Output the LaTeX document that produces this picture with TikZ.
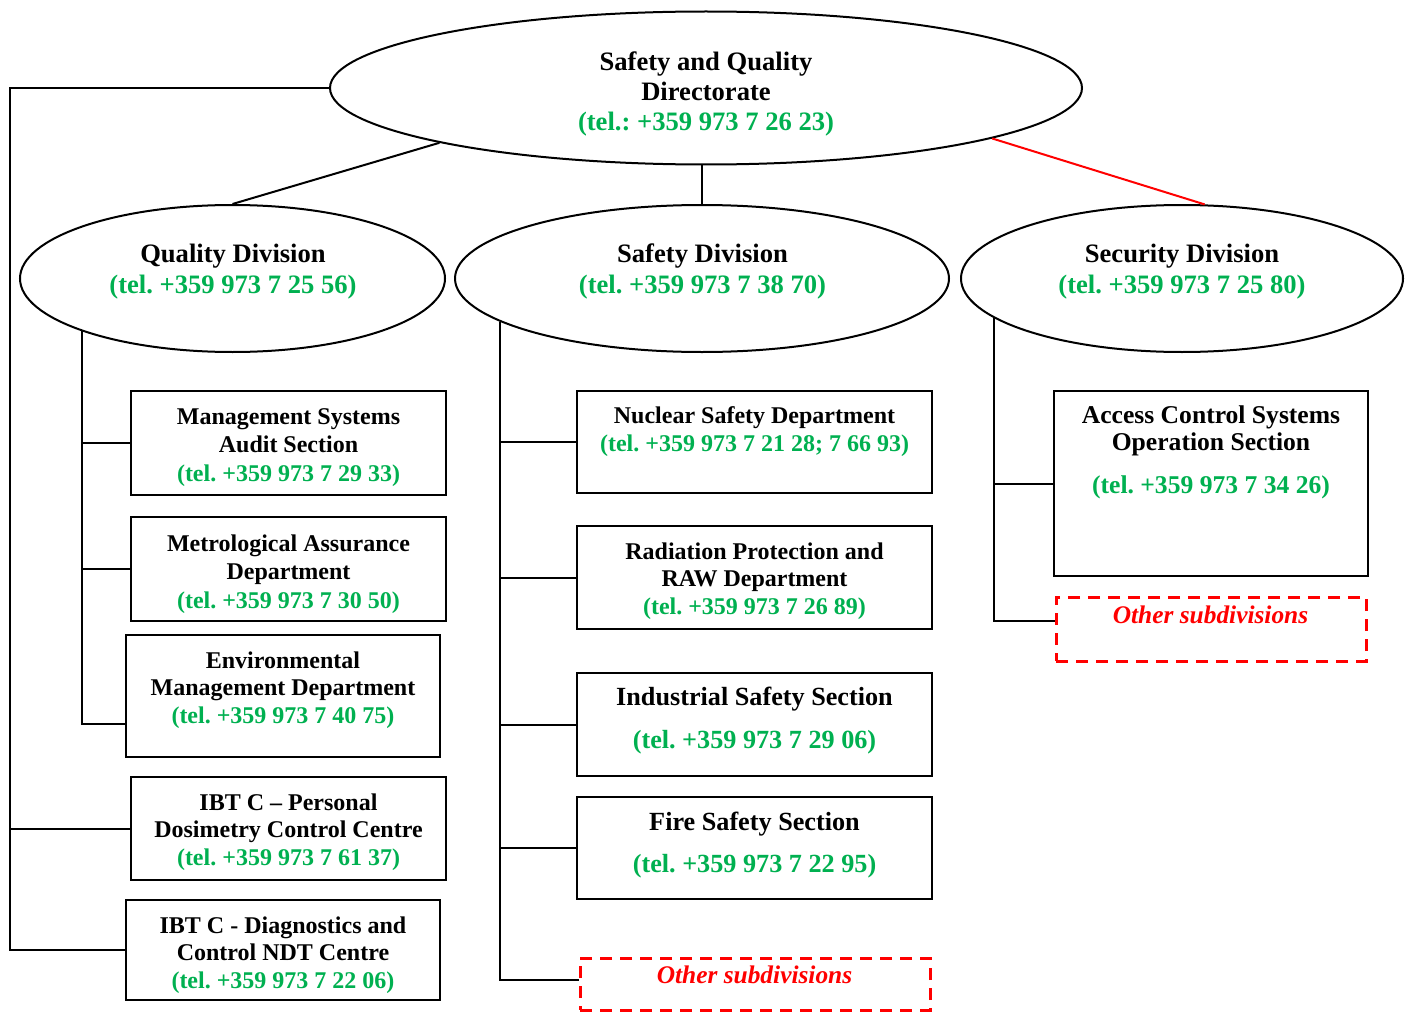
\documentclass[tikz,border=0pt]{standalone}
\usepackage{fontspec}
\setmainfont{Liberation Serif}
\usetikzlibrary{shapes.geometric,calc}
\definecolor{grn}{HTML}{00B050}
\definecolor{rd}{HTML}{FF0000}
\frenchspacing
\begin{document}
\begin{tikzpicture}[x=1pt,y=-1pt,
  ln/.style={draw=black,line width=2pt},
  ell/.style={ellipse,draw,line width=2pt,inner sep=0pt},
  box/.style={rectangle,draw,line width=2pt,inner sep=0pt},
  otherbox/.style={rectangle,draw=rd,line width=3pt,dash pattern=on 12pt off 8pt,inner sep=0pt},
  lbl/.style 2 args={font=\fontsize{#1}{#2}\selectfont\bfseries\frenchspacing,align=center,inner sep=0pt},
  otxt/.style={font=\fontsize{25.4}{30}\selectfont\bfseries\itshape,text=rd,inner sep=0pt},
]
\useasboundingbox (0,0) rectangle (1411,1014);

% ellipses
\node[ell,minimum width=752pt,minimum height=153pt] (top) at (706,88) {};
\node[ell,minimum width=425pt,minimum height=147pt] (qd) at (232.5,278.5) {};
\node[ell,minimum width=494pt,minimum height=147pt] (sd) at (702,278.5) {};
\node[ell,minimum width=442pt,minimum height=147pt] (secd) at (1182,278.5) {};

% boxes
\node[box,minimum width=315pt,minimum height=104pt] (msa) at (288.5,443) {};
\node[box,minimum width=315pt,minimum height=104pt] (metro) at (288.5,569) {};
\node[box,minimum width=314pt,minimum height=122pt] (env) at (283,696) {};
\node[box,minimum width=315pt,minimum height=103pt] (pers) at (288.5,828.5) {};
\node[box,minimum width=314pt,minimum height=100pt] (diag) at (283,950) {};
\node[box,minimum width=355pt,minimum height=102pt] (nuc) at (754.5,442) {};
\node[box,minimum width=355pt,minimum height=103pt] (rad) at (754.5,577.5) {};
\node[box,minimum width=355pt,minimum height=103pt] (ind) at (754.5,724.5) {};
\node[box,minimum width=355pt,minimum height=102pt] (fire) at (754.5,848) {};
\node[otherbox,minimum width=350pt,minimum height=52pt] (oth1) at (755,984) {};
\node[box,minimum width=314pt,minimum height=185pt] (acc) at (1211,483.5) {};
\node[otherbox,minimum width=310pt,minimum height=64pt] (oth2) at (1211,629) {};

% texts
\node[lbl={26.6}{30}] (topt) at (706,94) {Safety and Quality\\Directorate\\\textcolor{grn}{(tel.: +359 973 7 26 23)}};
\node[lbl={26.6}{31}] (qdt) at (233,271.5) {Quality Division\\\textcolor{grn}{(tel. +359 973 7 25 56)}};
\node[lbl={26.6}{31}] (sdt) at (702.5,271.5) {Safety Division\\\textcolor{grn}{(tel. +359 973 7 38 70)}};
\node[lbl={26.6}{31}] (sect) at (1182,271.5) {Security Division\\\textcolor{grn}{(tel. +359 973 7 25 80)}};

\node[lbl={24}{28.5}] (msat) at (288.5,447.5) {Management Systems\\Audit Section\\\textcolor{grn}{(tel. +359 973 7 29 33)}};
\node[lbl={24}{28.5}] (metrot) at (288.5,574) {Metrological Assurance\\Department\\\textcolor{grn}{(tel. +359 973 7 30 50)}};
\node[lbl={24}{27.5}] (envt) at (283,690) {Environmental\\Management Department\\\textcolor{grn}{(tel. +359 973 7 40 75)}};
\node[lbl={24}{27.5}] (perst) at (288.5,832) {IBT C -- Personal\\Dosimetry Control Centre\\\textcolor{grn}{(tel. +359 973 7 61 37)}};
\node[lbl={24}{27.5}] (diagt) at (283,955) {IBT C - Diagnostics and\\Control NDT Centre\\\textcolor{grn}{(tel. +359 973 7 22 06)}};

\node[lbl={24}{28}] (nuct) at (754.5,431.5) {Nuclear Safety Department\\\textcolor{grn}{(tel. +359 973 7 21 28; 7 66 93)}};
\node[lbl={24}{27.5}] (radt) at (754.5,581) {Radiation Protection and\\RAW Department\\\textcolor{grn}{(tel. +359 973 7 26 89)}};
\node[lbl={26.2}{43}] (indt) at (754.5,720.5) {Industrial Safety Section\\\textcolor{grn}{(tel. +359 973 7 29 06)}};
\node[lbl={26.2}{42}] (firet) at (754.5,845) {Fire Safety Section\\\textcolor{grn}{(tel. +359 973 7 22 95)}};
\node[otxt] (oth1t) at (754.5,975) {Other subdivisions};

\node[lbl={25.6}{27}] (acct) at (1211,452) {Access Control Systems\\Operation Section\\[16pt]\textcolor{grn}{(tel. +359 973 7 34 26)}};
\node[otxt] (oth2t) at (1210.5,615) {Other subdivisions};

% connectors
\coordinate (lb) at (10,88);
\draw[ln] (top.west) -- (lb) |- (diag.west);
\draw[ln] (pers.west) -- (pers.west -| lb);
\draw[ln] (top.south west) -- (qd.north);
\draw[ln] (sd.north) -- (sd.north |- top.south);
\draw[ln,draw=rd] (top.-10) -- (secd.73);

\draw[ln] (qd.south west) |- ([yshift=-28pt]env.west);
\draw[ln] (msa.west) -- (msa.west -| qd.south west);
\draw[ln] (metro.west) -- (metro.west -| qd.south west);

\draw[ln] (sd.192) |- ([yshift=4pt]oth1.west);
\draw[ln] (nuc.west) -- (nuc.west -| sd.192);
\draw[ln] (rad.west) -- (rad.west -| sd.192);
\draw[ln] (ind.west) -- (ind.west -| sd.192);
\draw[ln] (fire.west) -- (fire.west -| sd.192);

\draw[ln] (secd.192) |- ([yshift=8pt]oth2.west);
\draw[ln] (acc.west) -- (acc.west -| secd.192);
\end{tikzpicture}
\end{document}
